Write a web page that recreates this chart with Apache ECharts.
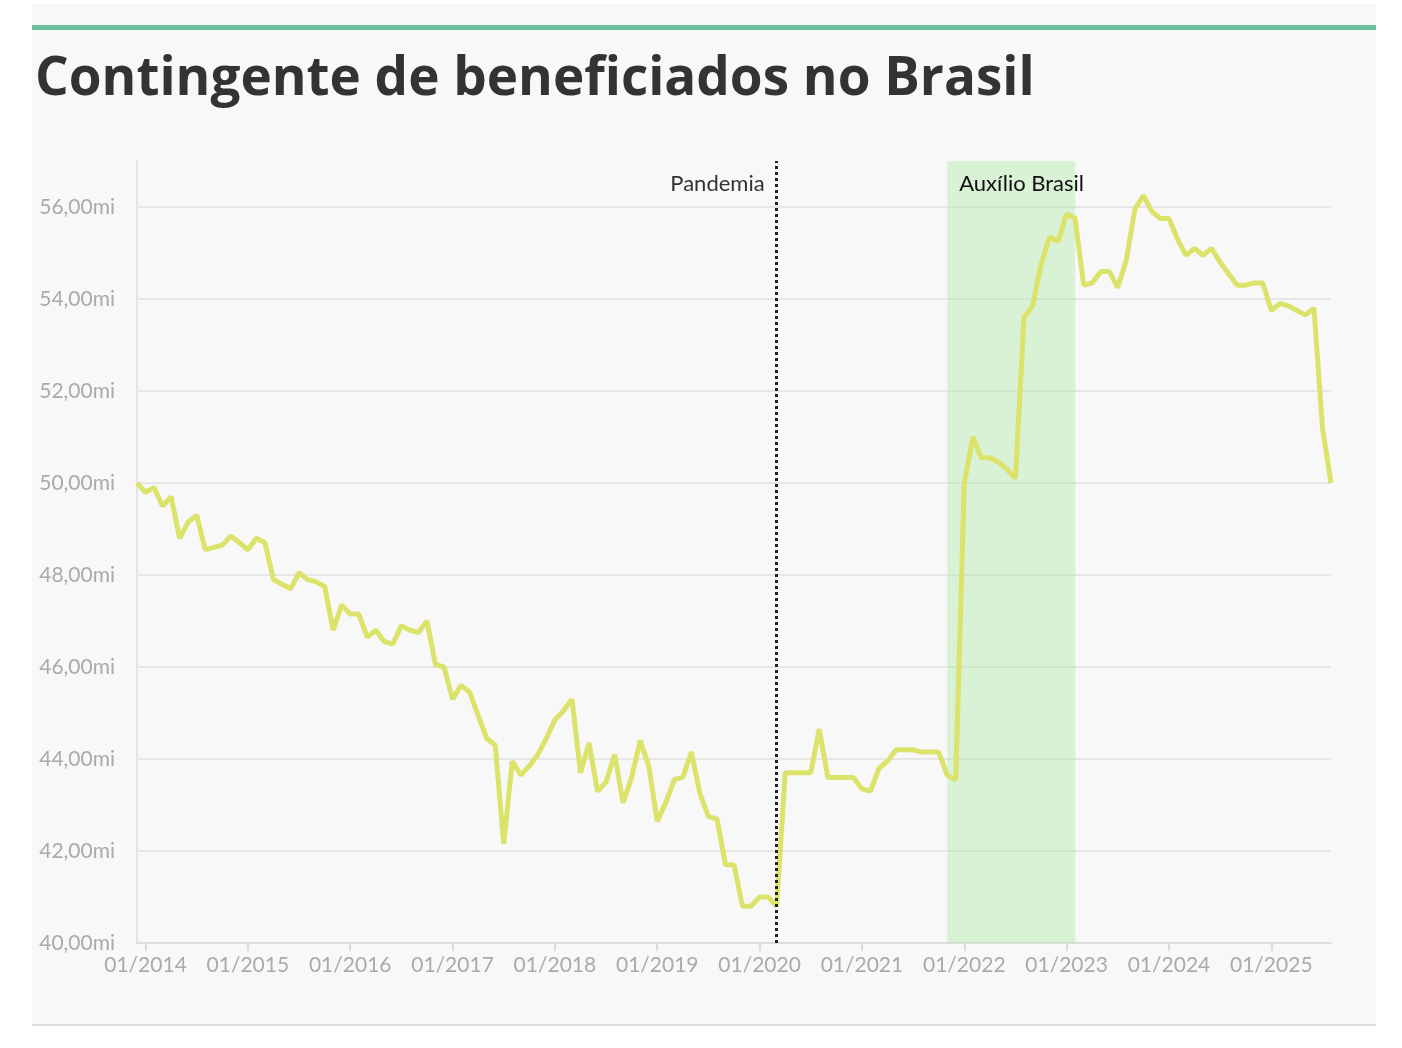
<!DOCTYPE html>
<html style="height: 100%">
<head>
    <meta charset="UTF-8">
    <title>Contingente de beneficiados no Brasil</title>
    <script src="https://cdn.jsdelivr.net/npm/echarts@6/dist/echarts.min.js"></script>
</head>
<body style="height: 100%; margin: 0; background: #fff">
    <div style="position:absolute; left:32px; top:4px; width:1344px; height:1020px; background:#f8f8f8; border-bottom:2px solid #ddd"></div>
    <div style="position:absolute; left:32px; top:25px; width:1344px; height:5px; background:#6dbf9d"></div>
    <div id="main" style="position:absolute; left:0; top:0; width:1402px; height:1048px;"></div>
    <script>
        // valores mensais (milhões), dez/2013 a ago/2025
        var values = [
            50.0, 49.8, 49.9, 49.5, 49.7, 48.8, 49.15, 49.3, 48.55, 48.6,
            48.65, 48.85, 48.7, 48.55, 48.8, 48.7, 47.9, 47.8, 47.7, 48.05,
            47.9, 47.85, 47.75, 46.8, 47.35, 47.15, 47.15, 46.65, 46.8, 46.55,
            46.5, 46.9, 46.8, 46.75, 47.0, 46.05, 46.0, 45.3, 45.6, 45.45,
            44.95, 44.45, 44.3, 42.15, 43.95, 43.65, 43.85, 44.1, 44.45, 44.85,
            45.05, 45.3, 43.7, 44.35, 43.3, 43.5, 44.1, 43.05, 43.6, 44.4,
            43.85, 42.65, 43.05, 43.55, 43.6, 44.15, 43.25, 42.75, 42.7, 41.7,
            41.7, 40.8, 40.8, 41.0, 41.0, 40.8, 43.7, 43.7, 43.7, 43.7,
            44.65, 43.6, 43.6, 43.6, 43.6, 43.35, 43.3, 43.8, 43.95, 44.2,
            44.2, 44.2, 44.15, 44.15, 44.15, 43.65, 43.55, 50.0, 51.0, 50.55,
            50.55, 50.45, 50.3, 50.1, 53.6, 53.85, 54.75, 55.35, 55.25, 55.85,
            55.75, 54.3, 54.35, 54.6, 54.6, 54.25, 54.85, 55.95, 56.25, 55.9,
            55.75, 55.75, 55.3, 54.95, 55.1, 54.95, 55.1, 54.8, 54.55, 54.3,
            54.3, 54.35, 54.35, 53.75, 53.9, 53.85, 53.75, 53.65, 53.8, 51.2,
            50.0
        ];
        var months = [];
        for (var i = 0; i < values.length; i++) {
            var m = (11 + i) % 12 + 1;
            var y = 2013 + Math.floor((11 + i) / 12);
            months.push((m < 10 ? '0' + m : m) + '/' + y);
        }
        var pandemia = '03/2020';
        var auxilio = ['11/2021', '02/2023'];

        var isJan = function (i, v) { return v.indexOf('01/') === 0; };

        var myChart = echarts.init(document.getElementById('main'));
        var option = {
            backgroundColor: 'transparent',
            textStyle: { fontFamily: 'Lato' },
            title: {
                text: 'Contingente de beneficiados no Brasil',
                left: 30,
                top: 48,
                textStyle: { color: '#333', fontSize: 53, fontWeight: 'bold', fontFamily: 'Open Sans' }
            },
            grid: { left: 137, right: 71, top: 161, bottom: 105 },
            xAxis: {
                type: 'category',
                boundaryGap: false,
                data: months,
                axisLine: { lineStyle: { color: '#ddd', width: 2 } },
                axisTick: { interval: isJan, length: 8, lineStyle: { color: '#ddd', width: 2 } },
                axisLabel: { interval: isJan, color: '#aaa', fontSize: 21, margin: 12 }
            },
            yAxis: {
                type: 'value',
                min: 40, max: 57, interval: 2,
                axisLine: { show: true, lineStyle: { color: '#e5e5e5', width: 2 } },
                axisLabel: {
                    color: '#aaa', fontSize: 21, margin: 22,
                    formatter: function (v) { return v > 56 ? '' : v.toFixed(2).replace('.', ',') + 'mi'; }
                },
                splitLine: {
                    lineStyle: { color: '#e6e6e6', width: 2 },
                    showMaxLine: false
                }
            },
            series: [{
                type: 'line',
                data: values,
                symbol: 'none',
                lineStyle: { color: '#dbe36a', width: 5 },
                markArea: {
                    silent: true,
                    itemStyle: { color: 'rgba(170,230,160,0.4)' },
                    label: { show: false },
                    data: [[{ xAxis: auxilio[0] }, { xAxis: auxilio[1] }]]
                },
                markLine: {
                    silent: true,
                    symbol: 'none',
                    label: { show: false },
                    lineStyle: { color: '#222', type: [3, 3], width: 3 },
                    data: [{ xAxis: pandemia }]
                },
                markPoint: {
                    silent: true,
                    symbol: 'circle',
                    symbolSize: 0,
                    data: [
                        { coord: [pandemia, 56.5], label: { show: true, formatter: 'Pandemia', position: 'left', distance: 12, color: '#333', fontSize: 22 } },
                        { coord: [auxilio[0], 56.5], label: { show: true, formatter: 'Auxílio Brasil', position: 'right', distance: 12, color: '#111', fontSize: 22 } }
                    ]
                }
            }]
        };
        myChart.setOption(option);
    </script>
</body>
</html>
